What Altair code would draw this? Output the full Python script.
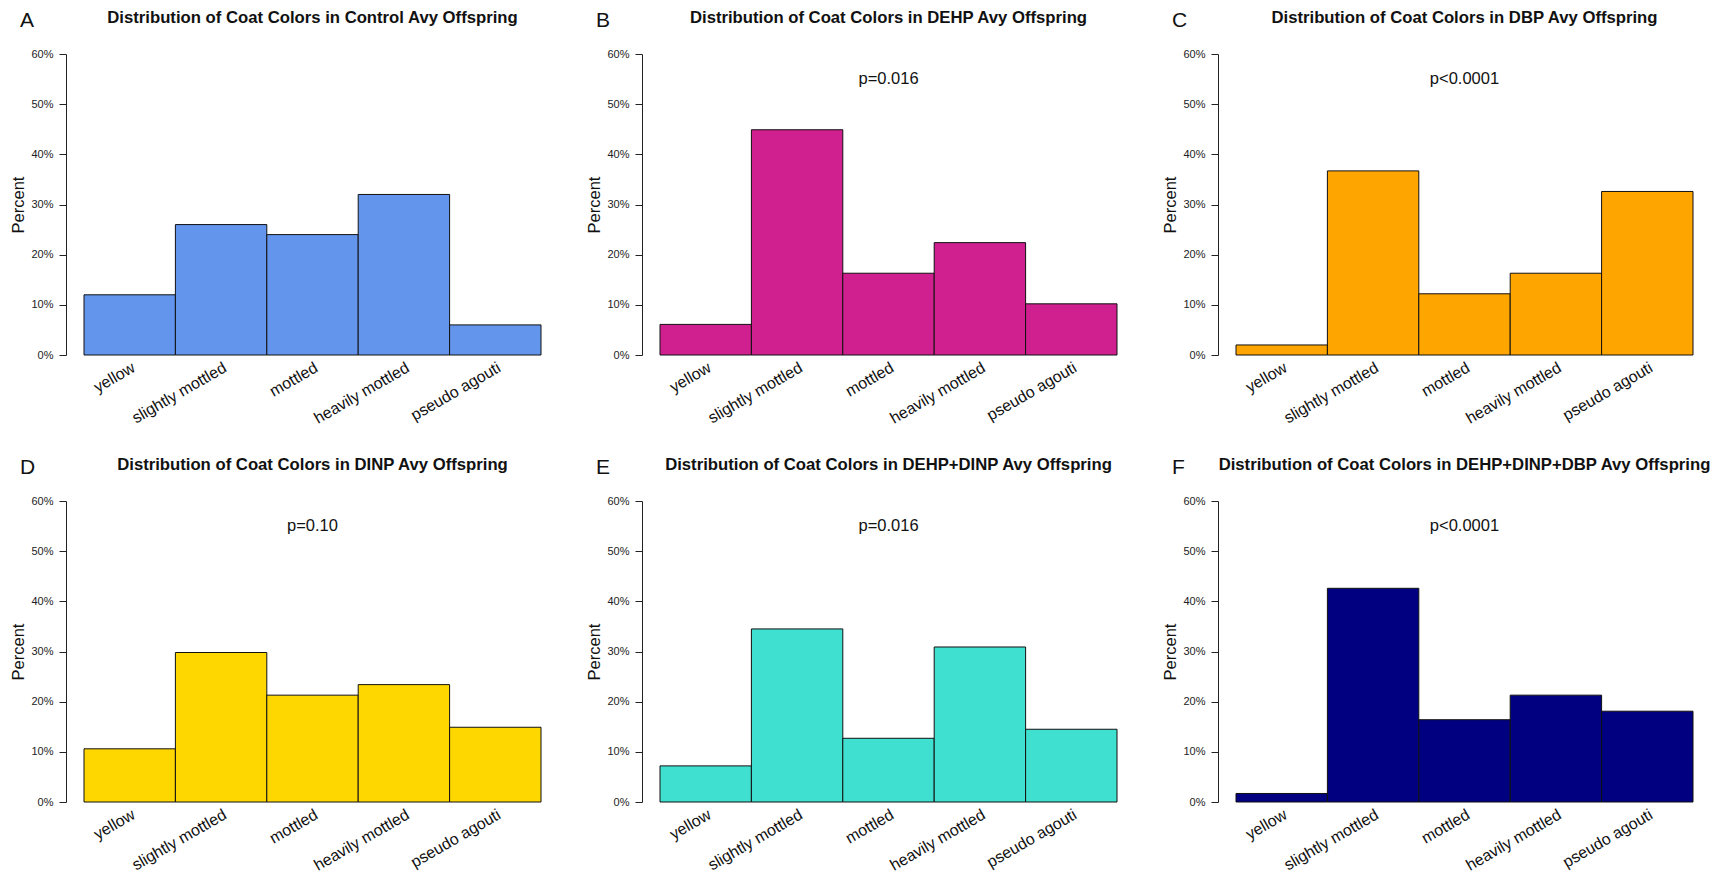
import altair as alt
import pandas as pd

categories = ["yellow", "slightly mottled", "mottled", "heavily mottled", "pseudo agouti"]
letters = ["A", "B", "C", "D", "E", "F"]
groups = ["Control", "DEHP", "DBP", "DINP", "DEHP+DINP", "DEHP+DINP+DBP"]
p_values = ["", "p=0.016", "p<0.0001", "p=0.10", "p=0.016", "p<0.0001"]
colors = ["#6495ED", "#D02090", "#FFA500", "#FFD700", "#40E0D0", "#000080"]

control = [12.0, 26.0, 24.0, 32.0, 6.0]
dehp = [6.1, 44.9, 16.3, 22.4, 10.2]
dbp = [2.0, 36.7, 12.2, 16.3, 32.6]
dinp = [10.6, 29.8, 21.3, 23.4, 14.9]
dehp_dinp = [7.2, 34.5, 12.7, 30.9, 14.5]
dehp_dinp_dbp = [1.7, 42.6, 16.4, 21.3, 18.1]
series = [control, dehp, dbp, dinp, dehp_dinp, dehp_dinp_dbp]

y_ticks = [0, 10, 20, 30, 40, 50, 60]

W, H = 457, 301
FONT = "Liberation Sans"


def panel(i):
    df = pd.DataFrame({"category": categories, "percent": series[i]})
    bars = alt.Chart(df).mark_bar(
        color=colors[i], stroke="#111111", strokeWidth=1
    ).encode(
        x=alt.X(
            "category:N",
            sort=categories,
            scale=alt.Scale(paddingInner=0, paddingOuter=0),
            axis=alt.Axis(
                title=None, domain=False, ticks=False, labelAngle=-30,
                labelFontSize=16, labelFont=FONT, labelColor="#111111",
                labelPadding=4, labelOverlap=False,
            ),
        ),
        y=alt.Y(
            "percent:Q",
            scale=alt.Scale(domain=[0, 60], nice=False),
            axis=alt.Axis(
                title="Percent", values=y_ticks, labelExpr="datum.value + '%'",
                offset=18, tickSize=7, labelPadding=6, grid=False,
                labelFontSize=11, labelFont=FONT, labelColor="#222222",
                titleFont=FONT, titleFontSize=16.5, titleFontWeight="normal",
                titleColor="#111111", titlePadding=4,
                domainColor="#222222", tickColor="#222222",
            ),
        ),
    )
    title_df = pd.DataFrame({"t": ["Distribution of Coat Colors in " + groups[i] + " Avy Offspring"]})
    title_txt = alt.Chart(title_df).mark_text(
        font=FONT, fontSize=16.7, fontWeight="bold", align="center",
        baseline="alphabetic", color="#111111"
    ).encode(x=alt.value(W / 2), y=alt.value(-31), text="t:N")
    letter_df = pd.DataFrame({"t": [letters[i]]})
    letter_txt = alt.Chart(letter_df).mark_text(
        font=FONT, fontSize=21, align="left", baseline="alphabetic", color="#111111"
    ).encode(x=alt.value(-64), y=alt.value(-27), text="t:N")
    layers = [bars, title_txt, letter_txt]
    if p_values[i]:
        p_df = pd.DataFrame({"t": [p_values[i]]})
        p_txt = alt.Chart(p_df).mark_text(
            font=FONT, fontSize=16.5, align="center", baseline="alphabetic", color="#111111"
        ).encode(x=alt.value(W / 2), y=alt.value(30), text="t:N")
        layers.append(p_txt)
    return alt.layer(*layers).properties(width=W, height=H)


row1 = alt.hconcat(*[panel(i) for i in range(3)], spacing=44)
row2 = alt.hconcat(*[panel(i) for i in range(3, 6)], spacing=44)
chart = alt.vconcat(row1, row2, spacing=30).properties(
    padding={"left": 2, "top": 2, "right": 0, "bottom": 0}
).configure_view(strokeWidth=0)

chart.save("out.html", embed_options={"renderer": "svg", "actions": False})
